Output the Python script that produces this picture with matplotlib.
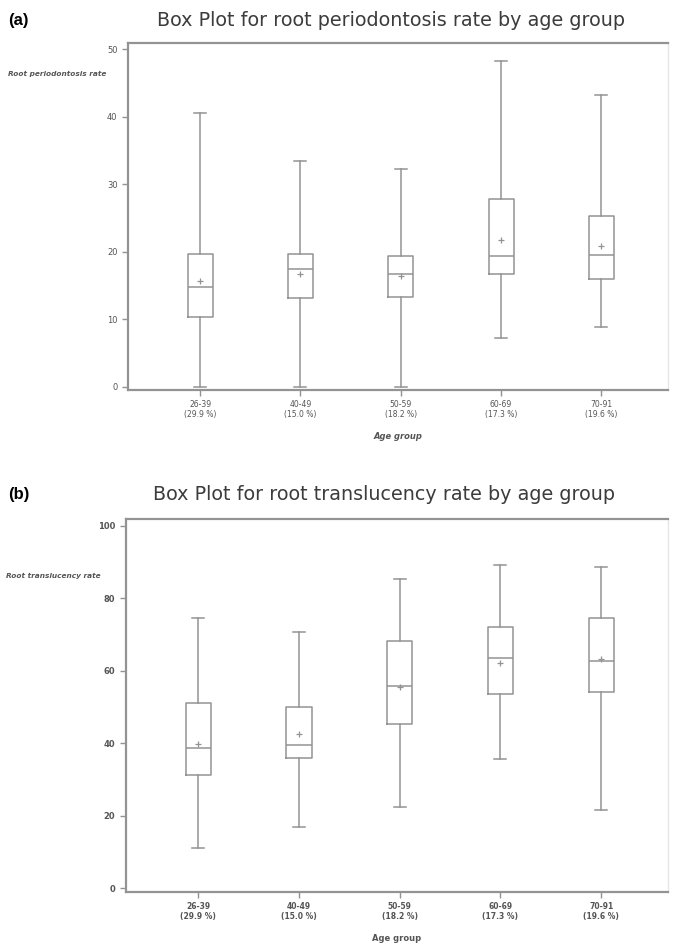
import matplotlib
matplotlib.use("Agg")
import matplotlib.pyplot as plt

groups = ["26-39", "40-49", "50-59", "60-69", "70-91"]
shares = ["29.9 %", "15.0 %", "18.2 %", "17.3 %", "19.6 %"]

# root periodontosis rate, five-number summaries plus mean
perio_low = [0.0, 0.0, 0.0, 7.2, 8.9]
perio_q1 = [10.3, 13.2, 13.3, 16.7, 16.0]
perio_med = [14.8, 17.4, 16.7, 19.4, 19.5]
perio_q3 = [19.7, 19.7, 19.4, 27.8, 25.3]
perio_high = [40.6, 33.4, 32.3, 48.3, 43.2]
perio_mean = [15.7, 16.7, 16.4, 21.7, 20.9]

# root translucency rate
transl_low = [11.0, 16.9, 22.4, 35.5, 21.5]
transl_q1 = [31.2, 35.9, 45.3, 53.5, 54.1]
transl_med = [38.7, 39.5, 55.8, 63.5, 62.7]
transl_q3 = [51.1, 50.0, 68.2, 72.0, 74.6]
transl_high = [74.6, 70.7, 85.2, 89.2, 88.7]
transl_mean = [39.8, 42.5, 55.6, 62.0, 63.3]

GRAY = "#939393"
TXT = "#555555"


def stats(low, q1, med, q3, high, mean):
    return [dict(whislo=a, q1=b, med=c, q3=d, whishi=e, mean=f, fliers=[])
            for a, b, c, d, e, f in zip(low, q1, med, q3, high, mean)]


def panel(ax, st, ylim, yticks, ylabel, bold_ticks, italic_xlabel):
    ax.bxp(st, positions=range(1, len(st) + 1), widths=0.25, capwidths=0.12,
           showmeans=True, showfliers=False,
           boxprops=dict(color=GRAY, lw=1.1),
           whiskerprops=dict(color=GRAY, lw=1.1),
           capprops=dict(color=GRAY, lw=1.1),
           medianprops=dict(color=GRAY, lw=1.1),
           meanprops=dict(marker="+", markersize=4, markeredgecolor=GRAY,
                          markeredgewidth=0.9))
    ax.set_xlim(0.28, 5.66)
    ax.set_ylim(*ylim)
    ax.set_yticks(yticks)
    ax.set_xticks(range(1, 6))
    ax.set_xticklabels([f"{g}\n({s})" for g, s in zip(groups, shares)],
                       fontsize=5.5, color=TXT, linespacing=1.2,
                       fontweight="bold" if bold_ticks else "normal")
    ax.tick_params(axis="y", labelsize=6, labelcolor=TXT, color=GRAY,
                   length=4, width=1)
    ax.tick_params(axis="x", color=GRAY, length=4, width=1, pad=3)
    if bold_ticks:
        for t in ax.get_yticklabels():
            t.set_fontweight("bold")
    for side in ["left", "bottom", "top"]:
        ax.spines[side].set_color(GRAY)
        ax.spines[side].set_linewidth(1.6)
    ax.spines["right"].set_color("#e6e6e6")
    ax.spines["right"].set_linewidth(1.0)
    ax.set_xlabel("Age group", fontsize=6, color=TXT, fontweight="bold",
                  style="italic" if italic_xlabel else "normal", labelpad=9)
    ax.text(-0.222, ylabel[1], ylabel[0], transform=ax.get_yaxis_transform(),
            fontsize=5.3, color=TXT, fontweight="bold", style="italic",
            ha="left", va="center")


fig = plt.figure(figsize=(6.73, 9.5), dpi=100)

ax1 = fig.add_axes([0.190, 0.5895, 0.802, 0.365])
panel(ax1, stats(perio_low, perio_q1, perio_med, perio_q3, perio_high, perio_mean),
      (-0.45, 50.9), [0, 10, 20, 30, 40, 50], ("Root periodontosis rate", 46.4),
      False, True)

ax2 = fig.add_axes([0.187, 0.061, 0.805, 0.393])
panel(ax2, stats(transl_low, transl_q1, transl_med, transl_q3, transl_high, transl_mean),
      (-1.1, 101.9), [0, 20, 40, 60, 80, 100], ("Root translucency rate", 86.0),
      True, False)

fig.text(0.012, 1 - 20 / 950, "(a)", fontsize=12, fontweight="bold",
         family="Liberation Sans", va="center")
fig.text(0.012, 1 - 495 / 950, "(b)", fontsize=12, fontweight="bold",
         family="Liberation Sans", va="center")
fig.text(391 / 673, 1 - 20 / 950, "Box Plot for root periodontosis rate by age group",
         fontsize=13.8, color="#3c3c3c", ha="center", va="center")
fig.text(384 / 673, 1 - 495 / 950, "Box Plot for root translucency rate by age group",
         fontsize=13.8, color="#3c3c3c", ha="center", va="center")

fig.savefig("out.png", dpi=100, facecolor="white")
